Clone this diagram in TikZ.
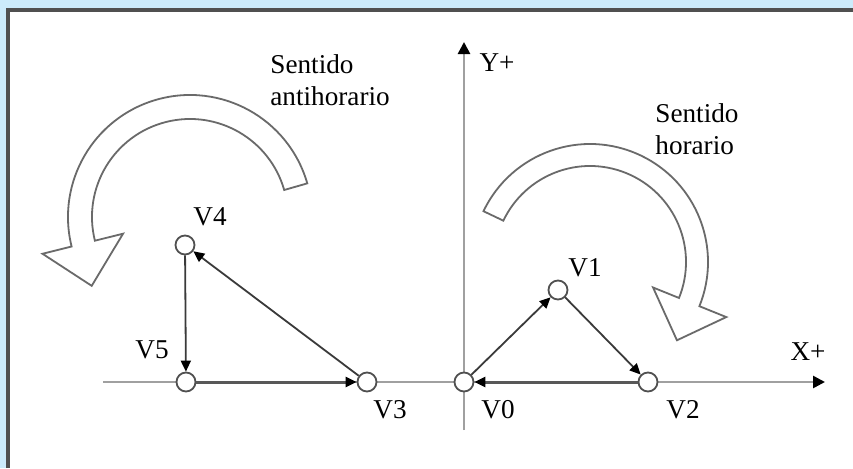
\documentclass[tikz,border=0pt]{standalone}
\usepackage{fontspec}
\setmainfont{Liberation Serif}
\usetikzlibrary{arrows.meta}
\definecolor{Sky}{HTML}{CCEBFB}
\definecolor{Frame}{HTML}{505050}
\definecolor{Axis}{HTML}{A0A0A0}
\definecolor{Edge}{HTML}{3A3A3A}
\definecolor{Turn}{HTML}{6A6A6A}
\tikzset{
  vertex/.style={circle, draw=Frame, fill=white, line width=0.9pt, minimum size=9.5pt, inner sep=0pt},
  vlabel/.style={inner sep=0pt, font=\fontsize{13.6}{16}\selectfont},
  note/.style={inner sep=0pt, align=left, anchor=base west, font=\fontsize{13.6}{16}\selectfont},
  axis/.style={draw=Axis, line width=1.3pt, -{Triangle[length=6pt, width=6pt, fill=black, color=black]}},
  edge/.style={draw=Edge, line width=0.9pt, -{Triangle[length=5.5pt, width=5pt, fill=black, color=black]}},
  bigedge/.style={edge, draw=Edge!85, line width=1.5pt},
  turn/.style={draw=Turn, fill=white, line width=0.9pt, line join=miter}
}
\begin{document}
\begin{tikzpicture}[x=0.5pt, y=0.5pt]
\useasboundingbox (0,0) rectangle (853,468);
% frame
\fill[Sky] (0,0) rectangle (853,468);
\fill[white] (8,0) rectangle (853,458);
\draw[Frame, line width=1.8pt] (8,0) -- (8,458) -- (853,458);

% axes
\coordinate (xs) at (103,86);
\coordinate (xe) at (825,86);
\coordinate (ys) at (464,38);
\coordinate (ye) at (464,426);
\draw[axis] (xs) -- (xe);
\draw[axis] (ys) -- (ye);
\node[vlabel] (xlab) at (808,116) {X+};
\node[vlabel] (ylab) at (497,405) {Y+};

% counter-clockwise arrow
\begin{scope}[shift={(190,251)}]
\draw[turn] (16:61pt) arc[start angle=16, end angle=194, radius=61pt]
  -- (194:76pt) -- (215:60pt) -- (194:34.5pt) -- (194:49pt)
  arc[start angle=194, end angle=16, radius=49pt] -- cycle;
\end{scope}
\node[note] (ccw) at (270,363) {Sentido\\antihorario};

% clockwise arrow
\begin{scope}[shift={(590,206)}]
\draw[turn] (154.5:59pt) arc[start angle=154.5, end angle=-22, radius=59pt]
  -- (-22:73.5pt) -- (-42:58.5pt) -- (-22:34pt) -- (-22:48pt)
  arc[start angle=-22, end angle=154.5, radius=48pt] -- cycle;
\end{scope}
\node[note] (cw) at (655,314) {Sentido\\horario};

% vertices
\node[vertex] (v0) at (464,86) {};
\node[vertex] (v1) at (558,178) {};
\node[vertex] (v2) at (648,86) {};
\node[vertex] (v3) at (367,86) {};
\node[vertex] (v4) at (185,223) {};
\node[vertex] (v5) at (186,86) {};
\node[vlabel] (l0) at (498,58) {V0};
\node[vlabel] (l1) at (585,200) {V1};
\node[vlabel] (l2) at (683,58) {V2};
\node[vlabel] (l3) at (390,58) {V3};
\node[vlabel] (l4) at (210,251) {V4};
\node[vlabel] (l5) at (152,118) {V5};

% path
\draw[edge] (v0) -- (v1);
\draw[edge] (v1) -- (v2);
\draw[bigedge] (v2) -- (v0);
\draw[edge] (v3) -- (v4);
\draw[edge] (v4) -- (v5);
\draw[bigedge] (v5) -- (v3);
\end{tikzpicture}
\end{document}
